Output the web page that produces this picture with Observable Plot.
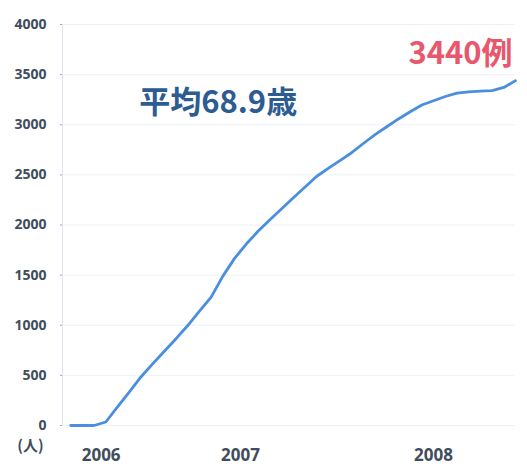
<!DOCTYPE html>
<html>
<head>
<meta charset="utf-8">
<script src="https://cdn.jsdelivr.net/npm/d3@7"></script>
<script src="https://cdn.jsdelivr.net/npm/@observablehq/plot@0.6"></script>
<style>
  html, body { margin: 0; padding: 0; background: #fff; }
  #chart { width: 527px; height: 467px; }
</style>
</head>
<body>
<div id="chart"></div>
<script>
// month index (roughly monthly points)
const months = [0,1,2,3,4,5,6,7,8,9,10,11,12,13,14,15,16,17,18,19,20,21,22,23,24,25,26,27,28,29,30,31,32,33,34,35,36,37,38];
// cumulative cases
const cases = [0,0,0,35,185,334,484,615,741,866,997,1140,1281,1490,1667,1810,1937,2050,2160,2270,2377,2484,2565,2642,2721,2813,2902,2980,3058,3130,3197,3239,3282,3315,3327,3335,3341,3372,3440];
const yTicks = [0,500,1000,1500,2000,2500,3000,3500,4000];
const xTickPos = [2.6, 14.5, 31.0];
const xTickLabels = ["2006", "2007", "2008"];
const yUnit = "(人)";
const avgLabel = "平均68.9歳";
const totalLabel = "3440例";

const data = months.map((m, i) => ({m, v: cases[i]}));
const xMin = -0.7, xMax = 38;

const chart = Plot.plot({
  width: 527,
  height: 467,
  marginLeft: 62,
  marginRight: 12,
  marginTop: 24,
  marginBottom: 42,
  style: {background: "#fff", overflow: "visible"},
  x: {domain: [xMin, xMax]},
  y: {domain: [0, 4000]},
  marks: [
    Plot.gridY(yTicks, {stroke: "#dbe6f0", strokeOpacity: 0.5}),
    Plot.ruleX([xMin], {stroke: "#dde6ef", strokeWidth: 1}),
    Plot.axisY(yTicks, {
      tickSize: 2, tickPadding: 14, stroke: "#9aa6b2",
      tickFormat: d => String(d),
      fontSize: 14, fontWeight: "bold", fill: "#3f4d5c",
      fontFamily: "'Open Sans', sans-serif", label: null
    }),
    Plot.axisX(xTickPos, {
      tickSize: 0, tickPadding: 23,
      tickFormat: (d, i) => xTickLabels[i],
      fontSize: 17, fontWeight: "bold", fill: "#3f4d5c",
      fontFamily: "'Open Sans', sans-serif", label: null
    }),
    Plot.text([yUnit], {
      frameAnchor: "bottom-left", textAnchor: "middle", dx: -32, dy: 25,
      fontSize: 15, fontWeight: "bold", fill: "#3f4d5c",
      fontFamily: "'Noto Sans CJK JP', sans-serif"
    }),
    Plot.line(data, {x: "m", y: "v", stroke: "#4a8ee0", strokeWidth: 2.8, curve: "linear"}),
    Plot.text([avgLabel], {
      x: [12.6], y: [3220], textAnchor: "middle",
      fontSize: 31, fontWeight: "bold", fill: "#2c5c92",
      fontFamily: "'Noto Sans CJK JP', sans-serif"
    }),
    Plot.text([totalLabel], {
      x: [33.3], y: [3700], textAnchor: "middle",
      fontSize: 31, fontWeight: "bold", fill: "#e8576b",
      fontFamily: "'Noto Sans CJK JP', sans-serif"
    })
  ]
});
document.getElementById("chart").appendChild(chart);
</script>
</body>
</html>
